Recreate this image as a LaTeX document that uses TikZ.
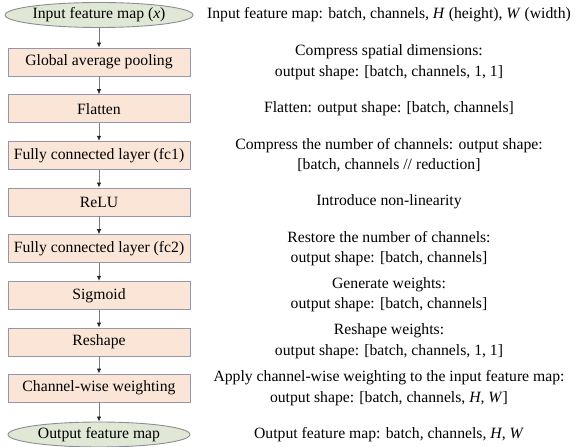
\documentclass[tikz,border=0pt]{standalone}
\usepackage{fontspec}
\setmainfont{Liberation Serif}
\usetikzlibrary{shapes.geometric,arrows.meta}
\definecolor{boxfill}{RGB}{251,229,214}
\definecolor{boxline}{RGB}{150,150,168}
\definecolor{ellfill}{RGB}{222,232,212}
\definecolor{ellline}{RGB}{140,140,150}
\definecolor{arrline}{RGB}{120,120,130}
\tikzset{
  procbox/.style={draw=boxline, line width=0.9pt, fill=boxfill, minimum width=182pt, minimum height=28pt, inner sep=0pt, font=\fontsize{15.7}{18}\selectfont},
  termell/.style={ellipse, draw=ellline, line width=0.9pt, fill=ellfill, minimum width=182pt, minimum height=25pt, inner sep=0pt, font=\fontsize{15.7}{18}\selectfont},
  note/.style={align=center, font=\fontsize{15.7}{20.5}\selectfont, inner sep=0pt},
  flow/.style={draw=arrline, line width=0.8pt, -{Latex[length=5pt,width=4.5pt,color=black!85]}}
}
\begin{document}
\begin{tikzpicture}[x=1pt,y=1pt]
\useasboundingbox (0,0) rectangle (576,447);
\def\cx{99}
\def\tx{389}
\node[termell] (in) at (\cx,447-15) {Input feature map (\textit{x})};
\node[procbox] (gap) at (\cx,447-62) {Global average pooling};
\node[procbox] (fl) at (\cx,447-108.7) {Flatten};
\node[procbox] (fc1) at (\cx,447-155.3) {Fully connected layer (fc1)};
\node[procbox] (relu) at (\cx,447-202) {ReLU};
\node[procbox] (fc2) at (\cx,447-248.7) {Fully connected layer (fc2)};
\node[procbox] (sig) at (\cx,447-295.3) {Sigmoid};
\node[procbox] (resh) at (\cx,447-342) {Reshape};
\node[procbox] (cw) at (\cx,447-388) {Channel-wise weighting};
\node[termell] (out) at (\cx,447-434.5) {Output feature map};

\draw[flow] (in) -- (gap);
\draw[flow] (gap) -- (fl);
\draw[flow] (fl) -- (fc1);
\draw[flow] (fc1) -- (relu);
\draw[flow] (relu) -- (fc2);
\draw[flow] (fc2) -- (sig);
\draw[flow] (sig) -- (resh);
\draw[flow] (resh) -- (cw);
\draw[flow] (cw) -- (out);

\node[note] (t1) at (\tx,447-15) {Input feature map: batch, channels, \textit{H} (height), \textit{W} (width)};
\node[note] (t2) at (\tx,447-62) {Compress spatial dimensions:\\output shape: [batch, channels, 1, 1]};
\node[note] (t3) at (\tx,447-108.7) {Flatten: output shape: [batch, channels]};
\node[note] (t4) at (\tx,447-155.3) {Compress the number of channels: output shape:\\{}[batch, channels // reduction]};
\node[note] (t5) at (\tx,447-202) {Introduce non-linearity};
\node[note] (t6) at (\tx,447-248.7) {Restore the number of channels:\\output shape: [batch, channels]};
\node[note] (t7) at (\tx,447-294.5) {Generate weights:\\output shape: [batch, channels]};
\node[note] (t8) at (\tx,447-341) {Reshape weights:\\output shape: [batch, channels, 1, 1]};
\node[note] (t9) at (\tx,447-388) {Apply channel-wise weighting to the input feature map:\\output shape: [batch, channels, \textit{H}, \textit{W}]};
\node[note] (t10) at (\tx,447-434.5) {Output feature map: batch, channels, \textit{H}, \textit{W}};
\end{tikzpicture}
\end{document}
